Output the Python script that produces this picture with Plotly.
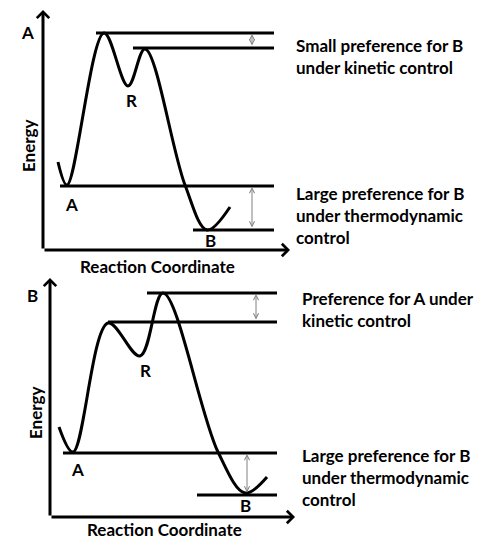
import plotly.graph_objects as go

# --- top diagram: B favoured both ways ---
top_rc = [15, 24, 61, 85, 102, 142, 164, 187]       # reaction coordinate
top_energy = [88, 65, 217, 164, 201, 65, 20, 43]
top_levels = [217, 202, 64, 20]
top_level_start = [53, 90, 17, 150]
top_gaps = [(217, 202), (64, 20)]
top_gap_x = [209, 209]
top_notes = ["Small preference for B<br>under kinetic control",
             "Large preference for B<br>under thermodynamic<br>control"]
top_note_e = [194, 35]
top_points = [("R", 88, 150), ("A", 28, 46), ("B", 167, 10)]

# --- bottom diagram: A favoured kinetically ---
bot_rc = [9, 23, 58, 90, 113, 168, 195, 217]
bot_energy = [90, 65, 194, 161, 224, 65, 24, 40]
bot_levels = [224, 195, 64, 22]
bot_level_start = [97, 58, 13, 147]
bot_gaps = [(224, 195), (64, 22)]
bot_gap_x = [206, 197]
bot_notes = ["Preference for A under<br>kinetic control",
             "Large preference for B<br>under thermodynamic<br>control"]
bot_note_e = [208, 40]
bot_points = [("R", 95, 147), ("A", 27, 48), ("B", 195, 12)]

FONT = dict(family="Lato", size=17, color="black", weight="bold")
fig = go.Figure()
annotations = []


def panel(xa, ya, rc, energy, levels, starts, gaps, gap_x, notes, note_e,
          points, corner, level_end, note_x, y_top, x_tip, xlabel_e):
    xr = xa.replace("axis", "")
    yr = ya.replace("axis", "")
    fig.add_trace(go.Scatter(x=rc, y=energy, mode="lines",
                             line=dict(color="black", width=3, shape="spline", smoothing=1.0),
                             xaxis=xr, yaxis=yr, hoverinfo="skip"))
    for lv, st in zip(levels, starts):
        fig.add_trace(go.Scatter(x=[st, level_end], y=[lv, lv], mode="lines",
                                 line=dict(color="black", width=3),
                                 xaxis=xr, yaxis=yr, hoverinfo="skip"))
    for (hi, lo), gx in zip(gaps, gap_x):
        annotations.append(dict(x=gx, y=hi, ax=gx, ay=lo, xref=xr, yref=yr,
                                axref=xr, ayref=yr, text="", showarrow=True,
                                arrowhead=5, arrowside="end+start", arrowsize=1.0,
                                arrowwidth=1, arrowcolor="#808080", standoff=1,
                                startstandoff=1))
    # axes with arrow heads
    annotations.append(dict(x=0, y=y_top, ax=0, ay=0, xref=xr, yref=yr, axref=xr,
                            ayref=yr, text="", showarrow=True, arrowhead=4,
                            arrowsize=0.8, arrowwidth=3, arrowcolor="black"))
    annotations.append(dict(x=x_tip, y=0, ax=0, ay=0, xref=xr, yref=yr, axref=xr,
                            ayref=yr, text="", showarrow=True, arrowhead=4,
                            arrowsize=0.8, arrowwidth=3, arrowcolor="black"))
    for txt, e in zip(notes, note_e):
        annotations.append(dict(x=note_x, y=e, xref=xr, yref=yr, text=txt,
                                showarrow=False, xanchor="left", yanchor="middle",
                                align="left", font=FONT))
    for lab, px, py in points:
        annotations.append(dict(x=px, y=py, xref=xr, yref=yr, text=lab,
                                showarrow=False, font=FONT))
    annotations.append(dict(x=corner[1], y=corner[2], xref=xr, yref=yr, text=corner[0],
                            showarrow=False, font=FONT))
    annotations.append(dict(x=-15, y=104, xref=xr, yref=yr, text="Energy", textangle=-90,
                            showarrow=False, font=FONT))
    annotations.append(dict(x=114, y=xlabel_e, xref=xr, yref=yr, text="Reaction Coordinate",
                            showarrow=False, font=FONT))


panel("xaxis", "yaxis", top_rc, top_energy, top_levels, top_level_start, top_gaps,
      top_gap_x, top_notes, top_note_e, top_points, ("A", -16, 218), 231, 251, 240, 247, -16)
panel("xaxis2", "yaxis2", bot_rc, bot_energy, bot_levels, bot_level_start, bot_gaps,
      bot_gap_x, bot_notes, bot_note_e, bot_points, ("B", -18, 222), 227, 250, 239, 245, -12)

split = 1 - 270 / 539
hidden = dict(visible=False, showgrid=False, zeroline=False, fixedrange=True)
fig.update_layout(
    width=500, height=539, margin=dict(l=0, r=0, t=0, b=0),
    paper_bgcolor="white", plot_bgcolor="white", showlegend=False,
    xaxis=dict(range=[-43, 457], domain=[0, 1], anchor="y", **hidden),
    yaxis=dict(range=[-20, 250], domain=[split, 1], anchor="x", **hidden),
    xaxis2=dict(range=[-50, 450], domain=[0, 1], anchor="y2", **hidden),
    yaxis2=dict(range=[-22, 247], domain=[0, split], anchor="x2", **hidden),
    annotations=annotations,
)

# drop the browser's default page margin so the figure sits at the top-left corner
fig.write_html("out.html", config={"displayModeBar": False},
               post_script="document.body.style.margin='0';")
